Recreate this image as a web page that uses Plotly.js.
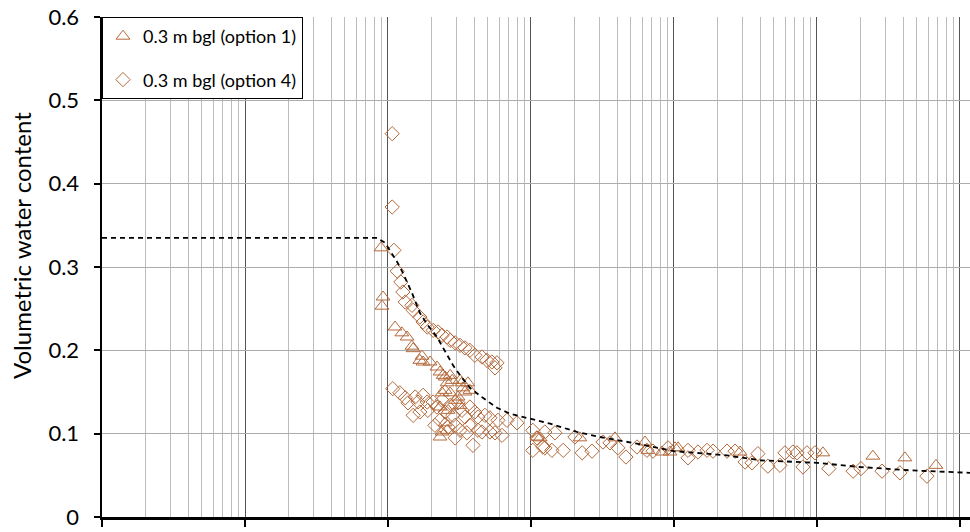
<!DOCTYPE html>
<html>
<head>
<meta charset="utf-8">
<script src="https://cdn.plot.ly/plotly-3.0.1.min.js"></script>
<style>html,body{margin:0;padding:0;background:#fff;}#chart{width:970px;height:532px;}</style>
</head>
<body>
<div id="chart"></div>
<script>
// Fitted curve (dashed)
const curveX = [0.1, 8.38, 9.53, 10.8, 11.6, 12.7, 14.7, 16.7, 19.0, 22.0, 25.9, 28.5, 31.9, 37.4, 46.1, 57.8, 71.3, 98.4, 136, 210, 304, 551, 1000, 2350, 3990, 10000, 20000, 44700, 117500];
const curveY = [0.335, 0.335, 0.329, 0.314, 0.306, 0.293, 0.269, 0.245, 0.230, 0.216, 0.194, 0.182, 0.170, 0.155, 0.143, 0.131, 0.124, 0.118, 0.112, 0.102, 0.096, 0.088, 0.079, 0.074, 0.068, 0.065, 0.060, 0.056, 0.053];

// 0.3 m bgl (option 1) - triangles
const opt1X = [8.93, 9.23, 9.08, 11.2, 12.5, 13.6, 14.7, 15.0, 17.3, 17.6, 19.7, 22.0, 23.1, 25.1, 27.2, 28.1, 31.9, 32.9, 36.2, 37.4, 34.5, 25.1, 23.9, 23.1, 25.1, 23.1, 23.9, 16.7, 24.3, 25.9, 33.4, 27.2, 30.9, 29.5, 31.9, 26.3, 25.9, 110, 116, 220, 387, 627, 658, 824, 938, 1016, 1067, 2900, 11000, 24600, 41200, 67900];
const opt1Y = [0.323, 0.264, 0.253, 0.228, 0.221, 0.216, 0.205, 0.202, 0.193, 0.186, 0.186, 0.180, 0.174, 0.168, 0.170, 0.164, 0.164, 0.161, 0.161, 0.152, 0.150, 0.152, 0.149, 0.132, 0.113, 0.096, 0.102, 0.188, 0.170, 0.161, 0.155, 0.149, 0.144, 0.140, 0.134, 0.128, 0.104, 0.096, 0.095, 0.095, 0.095, 0.090, 0.080, 0.078, 0.078, 0.083, 0.083, 0.078, 0.077, 0.073, 0.071, 0.062];

// 0.3 m bgl (option 4) - diamonds
const opt4X = [10.7, 10.7, 11.0, 11.6, 12.3, 12.7, 13.2, 14.7, 15.0, 16.7, 17.6, 18.8, 20.7, 22.4, 23.9, 25.9, 27.2, 29.5, 31.9, 34.5, 37.4, 40.5, 45.4, 49.2, 53.3, 57.8, 56.0,
  10.8, 12.1, 13.2, 13.8, 15.5, 16.2, 17.6, 18.8, 15.0, 16.7, 19.0, 20.7, 22.0, 23.9, 25.1, 27.2, 28.5, 30.9, 32.9, 34.5, 37.4, 40.5, 42.6, 47.6, 51.6, 58.7, 67.9, 79.8,
  26.3, 29.5, 31.9, 35.6, 39.3, 45.4, 51.6, 56.0, 62.7, 21.3, 23.1, 29.5, 37.4, 42.6,
  103, 110, 103, 121, 125, 147, 140, 168, 125, 203, 228, 267, 319, 357, 405, 461, 551, 647, 713, 908, 1253, 1253, 1472, 1702, 1875, 2350, 2673, 3141, 3510, 3862, 4538, 5510, 5970, 6790, 7240, 7980, 8510, 9680, 12100, 17900, 20300, 28500, 38000, 58700];
const opt4Y = [0.460, 0.372, 0.320, 0.295, 0.282, 0.270, 0.258, 0.254, 0.248, 0.240, 0.234, 0.228, 0.224, 0.222, 0.218, 0.216, 0.212, 0.209, 0.206, 0.203, 0.200, 0.194, 0.192, 0.188, 0.186, 0.185, 0.179,
  0.154, 0.149, 0.143, 0.137, 0.144, 0.138, 0.146, 0.138, 0.122, 0.126, 0.128, 0.138, 0.132, 0.140, 0.126, 0.134, 0.122, 0.137, 0.128, 0.120, 0.132, 0.126, 0.120, 0.122, 0.119, 0.116, 0.116, 0.113,
  0.108, 0.095, 0.104, 0.101, 0.086, 0.102, 0.102, 0.101, 0.098, 0.110, 0.116, 0.110, 0.110, 0.104,
  0.104, 0.095, 0.080, 0.084, 0.102, 0.101, 0.080, 0.080, 0.083, 0.096, 0.077, 0.079, 0.090, 0.089, 0.083, 0.072, 0.084, 0.080, 0.079, 0.083, 0.080, 0.071, 0.078, 0.080, 0.079, 0.079, 0.079, 0.066, 0.065, 0.076, 0.061, 0.062, 0.077, 0.078, 0.077, 0.060, 0.077, 0.077, 0.058, 0.055, 0.058, 0.055, 0.053, 0.049];

const seriesNames = ['0.3 m bgl (option 1)', '0.3 m bgl (option 4)'];
const yTitle = 'Volumetric water content';

const brown = '#b4693a';
const FONT = 'Lato, "DejaVu Sans", sans-serif';

const traces = [
  {x: opt1X, y: opt1Y, type: 'scatter', mode: 'markers', name: seriesNames[0], legendgroup: 'a',
   marker: {symbol: 'triangle-up-open', size: 12, color: brown, line: {width: 1, color: brown}}},
  {x: opt4X, y: opt4Y, type: 'scatter', mode: 'markers', name: seriesNames[1], legendgroup: 'b',
   marker: {symbol: 'diamond-open', size: 11, color: brown, line: {width: 1, color: brown}}},
  {x: curveX, y: curveY, type: 'scatter', mode: 'lines', showlegend: false, hoverinfo: 'skip',
   line: {color: '#000', width: 1.8, dash: '5px,4px'}}
];

const layout = {
  width: 970, height: 532,
  margin: {l: 102, r: 0, t: 17, b: 15},
  paper_bgcolor: '#fff', plot_bgcolor: '#fff',
  font: {family: FONT, color: '#000', size: 18},
  showlegend: true,
  legend: {x: 0, y: 1, xanchor: 'left', yanchor: 'top', bgcolor: '#fff', bordercolor: '#000', borderwidth: 1,
           font: {family: FONT, size: 18, color: '#000'}, tracegroupgap: 17, itemwidth: 30},
  xaxis: {
    type: 'log', range: [-1, Math.log10(117500)], dtick: 1,
    showticklabels: false, ticks: 'outside', ticklen: 7, tickwidth: 2, tickcolor: '#000',
    showline: true, linecolor: '#000', linewidth: 2.5,
    showgrid: true, gridcolor: '#555555', gridwidth: 1, zeroline: false,
    minor: {dtick: 'D1', showgrid: true, gridcolor: '#bdbdbd', gridwidth: 1, ticks: ''}
  },
  yaxis: {
    range: [0, 0.6], dtick: 0.1, tick0: 0, tickformat: '.1~f',
    ticks: 'outside', ticklen: 6, tickwidth: 2, tickcolor: '#000',
    showline: true, linecolor: '#000', linewidth: 2.5,
    showgrid: true, gridcolor: '#acacac', gridwidth: 1, zeroline: false,
    tickfont: {family: FONT, size: 22, color: '#000'}, ticklabelstandoff: 10
  },
  annotations: [{
    text: yTitle, textangle: -90, showarrow: false,
    xref: 'paper', yref: 'paper', x: -0.0922, y: 0.544, xanchor: 'center', yanchor: 'middle',
    font: {family: FONT, size: 24, color: '#000'}
  }]
};

Plotly.newPlot('chart', traces, layout, {displayModeBar: false, staticPlot: true});
</script>
</body>
</html>
